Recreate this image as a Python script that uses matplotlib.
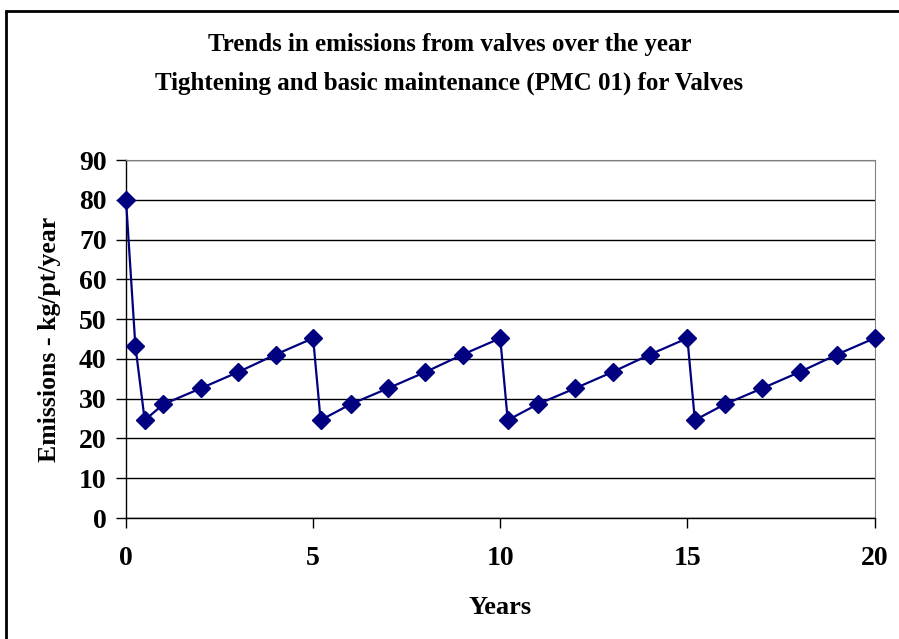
import numpy as np
import matplotlib.pyplot as plt

# emissions over a 20 year span, maintenance every 5 years
years = [0, 0.25, 0.5, 1, 2, 3, 4, 5,
         5.2, 6, 7, 8, 9, 10,
         10.2, 11, 12, 13, 14, 15,
         15.2, 16, 17, 18, 19, 20]
emissions = [80, 43.3, 24.6, 28.6, 32.6, 36.7, 41.1, 45.2,
             24.6, 28.6, 32.6, 36.7, 41.1, 45.2,
             24.6, 28.6, 32.6, 36.7, 41.1, 45.2,
             24.6, 28.6, 32.6, 36.7, 41.1, 45.2]

plt.rcParams['font.family'] = ['Liberation Serif', 'DejaVu Serif']
plt.rcParams['font.weight'] = 'bold'

fig = plt.figure(figsize=(8.99, 6.39), dpi=100)

# outer chart frame
fig.patches.append(plt.Rectangle((6/899, -0.01), 1.0, 1 - 11/639 + 0.01,
                                 transform=fig.transFigure, fill=False,
                                 edgecolor='black', linewidth=2))

ax = fig.add_axes([126/899, 1 - 518/639, (874.5 - 126)/899, (518 - 160)/639])

ax.plot(years, emissions, color='#000080', linewidth=1.6, marker='D',
        markersize=9, clip_on=False, zorder=3)

ax.set_xlim(0, 20)
ax.set_ylim(0, 90)
ax.set_xticks([0, 5, 10, 15, 20])
ax.set_yticks(np.arange(0, 91, 10))
ax.yaxis.grid(True, color='black', linewidth=1)
ax.set_axisbelow(True)

for side in ['top', 'right']:
    ax.spines[side].set_color('#808080')
for side in ['left', 'bottom']:
    ax.spines[side].set_color('black')
    ax.spines[side].set_linewidth(1)

ax.tick_params(axis='y', direction='out', length=7, width=1, labelsize=20, pad=7)
ax.tick_params(axis='x', direction='out', length=7, width=1, labelsize=20, pad=13)

ax.set_xlabel('Years', fontsize=19, fontweight='bold', labelpad=18)
ax.set_ylabel('Emissions - kg/pt/year', fontsize=18.5, fontweight='bold', labelpad=13)

fig.text(0.5, 1 - 45/639, 'Trends in emissions from valves over the year',
         ha='center', va='center', fontsize=18, fontweight='bold')
fig.text(0.5, 1 - 83/639, 'Tightening and basic maintenance (PMC 01) for Valves',
         ha='center', va='center', fontsize=18, fontweight='bold')

fig.savefig('out.png', dpi=100)
